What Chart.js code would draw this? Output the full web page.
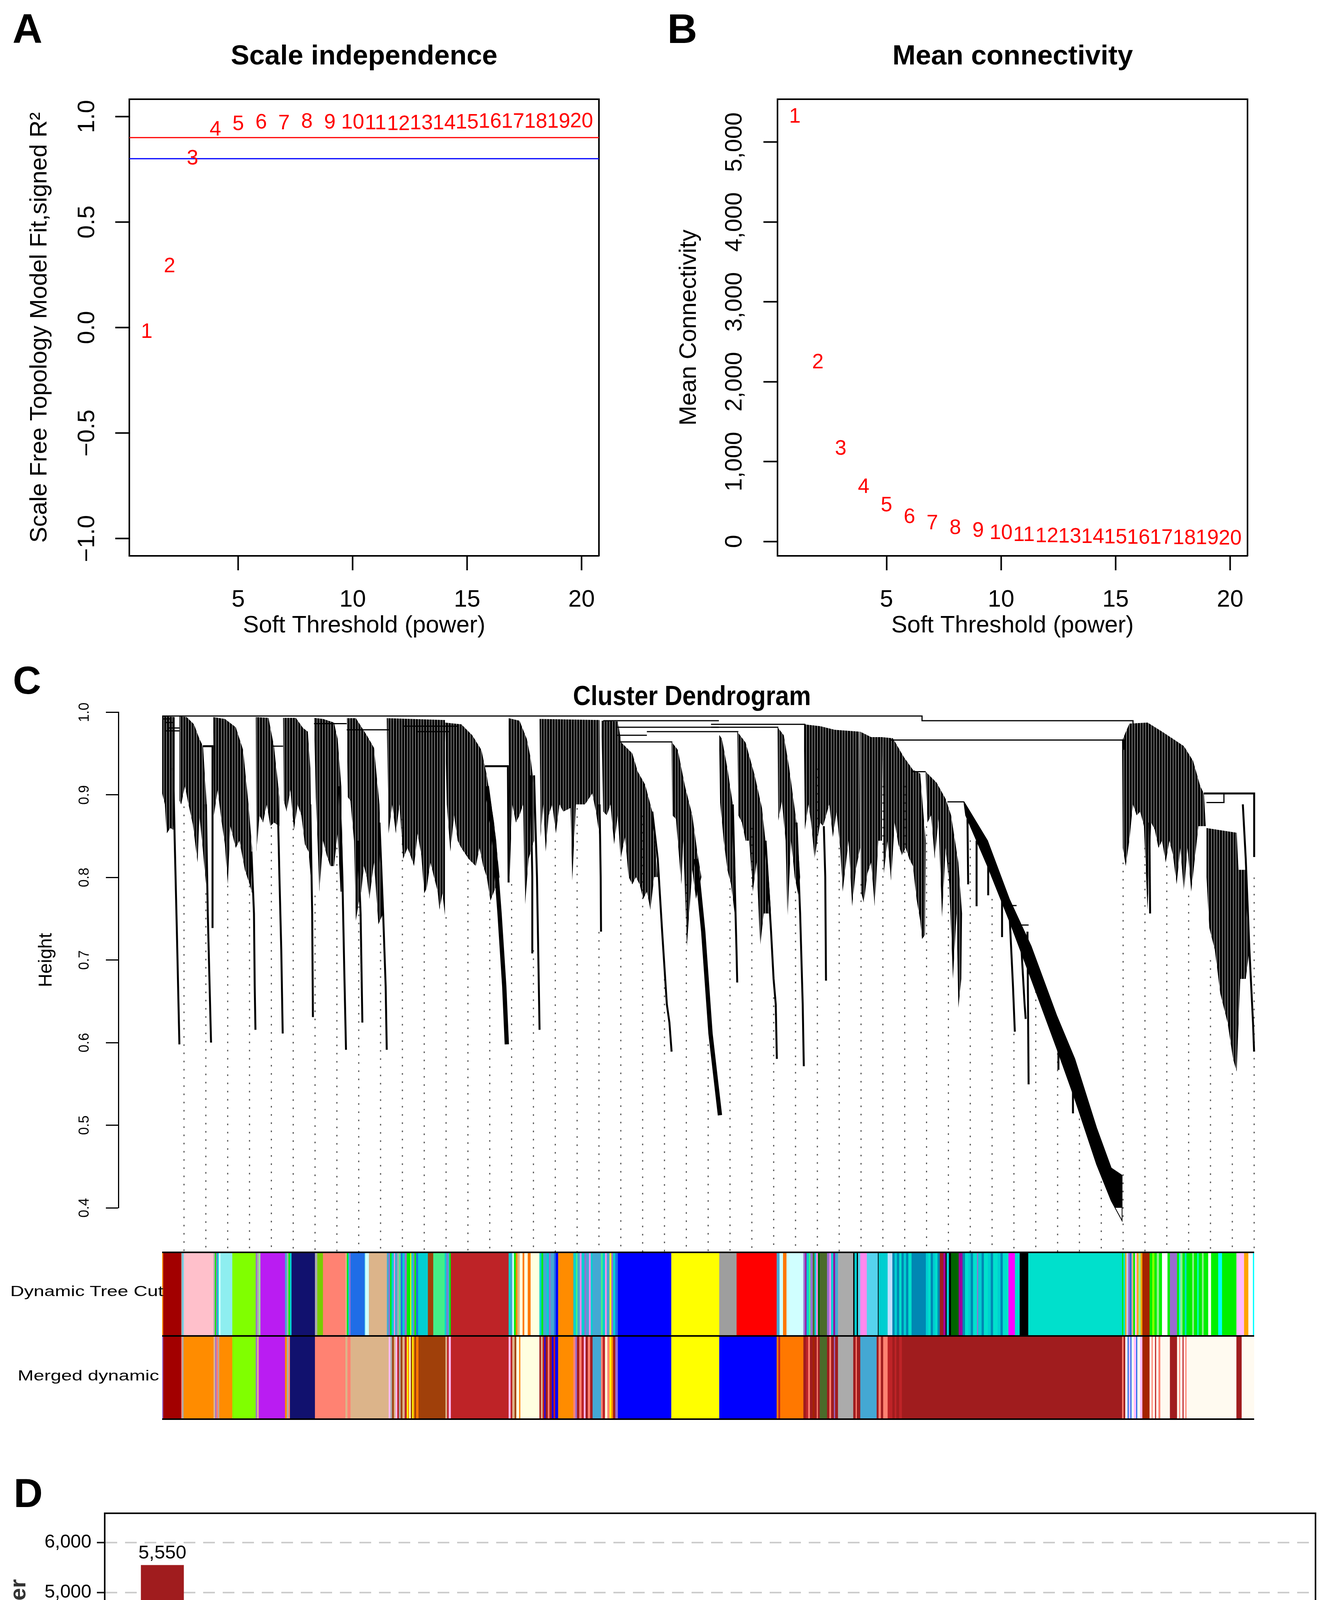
<!DOCTYPE html>
<html lang="en">
<head>
<meta charset="UTF-8"/>
<title>WGCNA soft threshold, module dendrogram and module sizes</title>
<script src="https://cdn.jsdelivr.net/npm/chart.js"></script>
<style>
 html,body{margin:0;padding:0;background:#fff}
 body{width:3399px;height:5011px;position:relative;overflow:hidden;font-family:"Liberation Sans",Arial,Helvetica,sans-serif;color:#000}
 .box{position:absolute}
 .txt{position:absolute;line-height:1;white-space:nowrap;z-index:2}
 .tag{font-weight:bold}
</style>
</head>
<body>
<div class="box" style="left:0;top:0;width:1700px;height:1650px"><canvas id="fit"></canvas></div>
<div class="box" style="left:1650px;top:0;width:1749px;height:1650px"><canvas id="conn"></canvas></div>
<div class="box" style="left:0;top:1700px;width:3399px;height:1550px"><canvas id="dendro"></canvas></div>
<div class="box" style="left:0;top:3190px;width:3399px;height:460px"><canvas id="colors"></canvas></div>
<div class="box" style="left:0;top:3780px;width:3399px;height:1231px"><canvas id="sizes"></canvas></div>

<div class="txt tag" style="left:32px;top:20px;font-size:106px">A</div>
<div class="txt tag" style="left:1708px;top:20px;font-size:106px">B</div>
<div class="txt tag" style="left:33px;top:1691px;font-size:100px">C</div>
<div class="txt tag" style="left:35px;top:3771px;font-size:103px">D</div>

<div class="txt tag" style="left:932px;top:105px;font-size:71px;transform:translateX(-50%)">Scale independence</div>
<div class="txt tag" style="left:2592px;top:105px;font-size:71px;transform:translateX(-50%)">Mean connectivity</div>
<div class="txt tag" style="left:1771px;top:1746px;font-size:70px;transform:translateX(-50%) scaleX(0.9)">Cluster Dendrogram</div>
<div class="txt" style="right:2981px;top:3288px;font-size:36px;transform:scaleX(1.36);transform-origin:right center">Dynamic Tree Cut</div>
<div class="txt" style="right:2992px;top:3504px;font-size:36px;transform:scaleX(1.36);transform-origin:right center">Merged dynamic</div>

<script>
// ---- panel A / B : soft threshold scan ----
const powers = [1,2,3,4,5,6,7,8,9,10,11,12,13,14,15,16,17,18,19,20];
const scaleFreeFit = [-0.022,0.289,0.800,0.936,0.963,0.971,0.967,0.973,0.971,0.971,0.967,0.963,0.967,0.967,0.971,0.973,0.973,0.973,0.973,0.975];
const meanConnectivity = [5318,2241,1159,680,450,303,225,166,130,103,78,64,59,54,49,44,40,38,35,30];
const powerTicks = [5,10,15,20];
const fitTicks = [-1,-0.5,0,0.5,1];
const connTicks = [0,1000,2000,3000,4000,5000];
const fitCutoffs = [0.9,0.8];

// ---- panel D : module sizes ----
const moduleNames = ['brown4','blue','floralwhite','brown','darkorange','yellow','saddlebrown','tan','skyblue3','salmon','darkorange2','lightyellow','purple','greenyellow','midnightblue','darkred','darkgrey','darkolivegreen','orangered4','grey'];
const moduleSizes = [5550,2252,2000,1150,1011,947,891,889,572,570,514,504,469,451,424,327,260,164,132,3];
const countTicks = [0,1000,2000,3000,4000,5000,6000];

// ---- panel C : dendrogram (x = leaf order, y = height) ----
const heightTicks = [0.4,0.5,0.6,0.7,0.8,0.9,1.0];
// outlines of the comb-like branch bundles
const dendroMasses = [
 [[0,.9955],[219,.9942],[219,.9061],[193,.8577],[142,.8599],[79,.8533],[47,.8885],[0,.9017]],
 [[301,.9951],[428,.9942],[556,.9854],[651,.9678],[714,.9590],[778,.8885],[765,.7916],[714,.8313],[651,.8753],[619,.8181],[536,.8643],[460,.8885],[397,.9105],[333,.8885],[301,.8929]],
 [[892,.9942],[1096,.9920],[1286,.9819],[1414,.9546],[1509,.8885],[1572,.8357],[1572,.7806],[1528,.7916],[1445,.8093],[1350,.8445],[1286,.8357],[1191,.8621],[1147,.7916],[1096,.8401],[1032,.8709],[969,.9061],[905,.8753]],
 [[1636,.9942],[1858,.9933],[1954,.9590],[2049,.8973],[2049,.8621],[1954,.8665],[1890,.8621],[1827,.8885],[1763,.8665],[1700,.8753],[1649,.8313]],
 [[2113,.9933],[2335,.9933],[2462,.9810],[2545,.9766],[2589,.9325],[2621,.7806],[2558,.8313],[2494,.8401],[2431,.8753],[2367,.8885],[2303,.8577],[2240,.9061],[2176,.8797],[2125,.8929]],
 [[2653,.9933],[2812,.9920],[3003,.9876],[3066,.9678],[3130,.9105],[3162,.7828],[3117,.7828],[3066,.8533],[3003,.8137],[2939,.8137],[2875,.8269],[2812,.8445],[2748,.7828],[2685,.8973]],
 [[3225,.9929],[3384,.9929],[3575,.9722],[3702,.9568],[3797,.8885],[3861,.7564],[3778,.7432],[3702,.8181],[3619,.7740],[3575,.8005],[3524,.8137],[3479,.7828],[3435,.7696],[3384,.7476],[3352,.8445],[3289,.8929],[3244,.8973]],
 [[3924,.9929],[4941,.9907],[4941,.7542],[4897,.7806],[4846,.7608],[4814,.7828],[4750,.8005],[4687,.8181],[4623,.7872],[4579,.7806],[4528,.8269],[4464,.8533],[4401,.8137],[4337,.8269],[4287,.8357],[4210,.8225],[4147,.8885],[4083,.8533],[4020,.8885],[3956,.8533]],
 [[4941,.9876],[5227,.9854],[5418,.9722],[5577,.9546],[5672,.9237],[5799,.8665],[5895,.8005],[5736,.7718],[5672,.8005],[5609,.8137],[5545,.8357],[5481,.8137],[5354,.8225],[5227,.8357],[5164,.8445],[5100,.8753],[5036,.8313],[4973,.8885]],
 [[6053,.9929],[6244,.9898],[6371,.9678],[6435,.9458],[6498,.9105],[6498,.8445],[6403,.8225],[6339,.7652],[6308,.8885],[6244,.8753],[6181,.8665],[6117,.8885],[6072,.8005]],
 [[6594,.9920],[7643,.9907],[7655,.8445],[7579,.8797],[7515,.9017],[7388,.8885],[7229,.8885],[7166,.7961],[7134,.8841],[7007,.8797],[6943,.8885],[6880,.8533],[6816,.8885],[6753,.8753],[6702,.8313],[6657,.8885],[6613,.8489]],
 [[7674,.9898],[7960,.9889],[8024,.9634],[8215,.9502],[8310,.9281],[8437,.9127],[8564,.8797],[8659,.8005],[8596,.8005],[8532,.7608],[8469,.7828],[8405,.7740],[8342,.7916],[8278,.8005],[8215,.7916],[8151,.8005],[8087,.8489],[8011,.8225],[7960,.8753],[7897,.8401],[7833,.8885],[7770,.8753],[7706,.8797]],
 [[8901,.9642],[9009,.9546],[9136,.9105],[9263,.8753],[9359,.8269],[9422,.8005],[9327,.7740],[9263,.8093],[9168,.7168],[9104,.8445],[9072,.7916],[8977,.8709],[8914,.8753]],
 [[9730,.9730],[9781,.9678],[9876,.9325],[9971,.8885],[10022,.8005],[10003,.7564],[9940,.7916],[9876,.8093],[9812,.8445],[9749,.8907]],
 [[10048,.9766],[10194,.9634],[10353,.9237],[10480,.8841],[10575,.8225],[10639,.7564],[10512,.7564],[10448,.7168],[10385,.8181],[10321,.7828],[10257,.8445],[10194,.8445],[10130,.8665],[10067,.8753]],
 [[10753,.9819],[10861,.9722],[10957,.9325],[11084,.8665],[11147,.8005],[11115,.7784],[11052,.8005],[10988,.8445],[10925,.7476],[10893,.8445],[10829,.8929],[10766,.8687]],
 [[11211,.9854],[11497,.9832],[11751,.9788],[12005,.9775],[12183,.9766],[12196,.8357],[12120,.8093],[12056,.7652],[11993,.8445],[11891,.7828],[11846,.8357],[11783,.8797],[11719,.8489],[11656,.8885],[11548,.8621],[11497,.8665],[11446,.8445],[11401,.8225],[11338,.8665],[11293,.8885],[11230,.8577]],
 [[12196,.9766],[12387,.9700],[12577,.9700],[12577,.8445],[12514,.8445],[12450,.7652],[12387,.8181],[12323,.8049],[12260,.7696],[12209,.7828]],
 [[12577,.9700],[12768,.9686],[12959,.9458],[13118,.9303],[13245,.9259],[13340,.8445],[13327,.7300],[13277,.7256],[13245,.7476],[13181,.7740],[13118,.8137],[13054,.8225],[12991,.8357],[12927,.8269],[12863,.8401],[12800,.8665],[12736,.7961],[12673,.8445],[12609,.8049]],
 [[13340,.9281],[13531,.9149],[13690,.8951],[13785,.8753],[13912,.8181],[13976,.7564],[13963,.6772],[13912,.6420],[13880,.7564],[13817,.6772],[13753,.7916],[13690,.8357],[13626,.7520],[13563,.8709],[13499,.8225],[13435,.8753],[13372,.8665]],
 [[16772,.9656],[16899,.9863],[17217,.9876],[17471,.9766],[17662,.9678],[17853,.9590],[18012,.9414],[18139,.9105],[18202,.9017],[18234,.8621],[18107,.8621],[18043,.8225],[17980,.7828],[17916,.8357],[17853,.7828],[17789,.8357],[17726,.7916],[17662,.8269],[17599,.8445],[17535,.8181],[17471,.8445],[17408,.8357],[17344,.8577],[17281,.8665],[17217,.7608],[17154,.8621],[17090,.8797],[17027,.8753],[16963,.8885],[16899,.8445],[16836,.8137],[16785,.8357]],
 [[18247,.8599],[18774,.8542],[18806,.8093],[18933,.8093],[18997,.7124],[18933,.6772],[18838,.6772],[18774,.5649],[18711,.5803],[18615,.6243],[18488,.6596],[18393,.7124],[18297,.7388],[18247,.8005]]
];
// the long, tightly packed diagonal bundle (turquoise module)
const denseBands = [
 [[14007,.8920],[14421,.8445],[14802,.7740],[15183,.7168],[15628,.6331],[15946,.5803],[16327,.4967],[16582,.4482],[16772,.4394],[16772,.3844],[16582,.4086],[16327,.4526],[15946,.5319],[15628,.5935],[15183,.6772],[14802,.7476],[14421,.8137],[14039,.8753]]
];
const thickTails = [
 [[5672,.9105],[5799,.8445],[5895,.7564],[5977,.6684],[6022,.5979]],
 [[9327,.8225],[9454,.7344],[9581,.6111],[9676,.5539],[9746,.5121]]
];
const dendroTails = [
 [[193,.9325],[219,.8445],[257,.7344],[301,.5979]],
 [[765,.8885],[797,.7564],[829,.6684],[854,.6001]],
 [[714,.9590],[880,.9590],[880,.7388]],
 [[1560,.8313],[1604,.7564],[1617,.6684],[1630,.6155]],
 [[2017,.8973],[2049,.8005],[2081,.7124],[2106,.6111]],
 [[2589,.8885],[2621,.7564],[2634,.6309]],
 [[3098,.9105],[3149,.8005],[3181,.6904],[3212,.5913]],
 [[3416,.8445],[3467,.7564],[3498,.6243]],
 [[3797,.8665],[3861,.7564],[3905,.6684],[3924,.5913]],
 [[5641,.9347],[6041,.9347],[6053,.7939]],
 [[6435,.9237],[6467,.8005],[6467,.7080]],
 [[6498,.9237],[6549,.8005],[6594,.6155]],
 [[7643,.8885],[7662,.8005],[7668,.7344]],
 [[8564,.8797],[8659,.8225],[8736,.7344],[8818,.6464],[8863,.6243],[8901,.5891]],
 [[9971,.8885],[10010,.7784],[10035,.7124],[10048,.6728]],
 [[10543,.8445],[10639,.7344],[10683,.6772],[10721,.6464],[10740,.5803]],
 [[11084,.8665],[11147,.7564],[11192,.6464],[11211,.5715]],
 [[11561,.8621],[11586,.8005],[11599,.6750]],
 [[14071,.8709],[14083,.7916]],
 [[14230,.8445],[14230,.7652]],
 [[14433,.8137],[14433,.7784]],
 [[14675,.7872],[14675,.7278]],
 [[14802,.7608],[14866,.6684],[14898,.6133]],
 [[14993,.7388],[15069,.6464],[15088,.6287]],
 [[15119,.7344],[15139,.5495]],
 [[15660,.6111],[15660,.5671]],
 [[15914,.5583],[15914,.5143]],
 [[17249,.8665],[17262,.7564]],
 [[18882,.8885],[18933,.8225],[18997,.7124],[19060,.6243],[19079,.5891]],
 [[18202,.9017],[19080,.9017],[19080,.8247]]
];
const dendroMerges = [
 [[0,.9955],[13277,.9955],[13277,.9898],[16963,.9898],[16963,.9863]],
 [[9590,.9854],[11240,.9854]],
 [[9590,.9819],[10766,.9819]],
 [[7706,.9898],[9727,.9898]],
 [[7960,.9819],[9727,.9819]],
 [[8469,.9766],[10067,.9766]],
 [[7960,.9722],[8469,.9722]],
 [[7992,.9642],[8914,.9642]],
 [[12705,.9664],[16804,.9664],[16804,.9546]],
 [[4210,.9832],[5164,.9832]],
 [[4464,.9766],[5036,.9766]],
 [[3225,.9788],[3956,.9788]],
 [[2653,.9863],[3225,.9863]],
 [[15,.9920],[142,.9920]],
 [[47,.9876],[206,.9876]],
 [[111,.9810],[301,.9810]],
 [[47,.9775],[301,.9775]],
 [[1922,.9590],[2113,.9590]],
 [[13118,.9281],[13340,.9281]],
 [[13721,.8916],[14007,.8916]],
 [[14802,.7660],[14929,.7660]],
 [[14961,.7424],[15139,.7424]],
 [[18247,.8907],[18552,.8907],[18552,.9017]]
];
// guide lines hang below the tree at 50 evenly spaced leaves
const guideHeights = [0.886,0.781,0.790,0.790,0.861,0.889,0.778,0.836,0.765,0.730,
 0.871,0.778,0.752,0.827,0.770,0.792,0.712,0.845,0.884,0.734,
 0.822,0.875,0.677,0.792,0.598,0.787,0.860,0.655,0.783,0.932,
 0.836,0.792,0.911,0.911,0.862,0.818,0.845,0.774,0.611,0.682,
 0.607,0.528,0.462,0.818,0.836,0.814,0.778,0.700,0.563,0.800];
const guideFloor = 0.3465;

// module colour rows under the tree: [module, first leaf, last leaf]
const rowNames = ['Dynamic Tree Cut','Merged dynamic'];
const treeCutSegs = [
['darkorange',0,21],['darkred',21,336],['darkgrey',336,356],['skyblue',356,377],['pink',377,900],
['darkgrey',900,925],['green',925,945],['mediumpurple3',945,965],['darkturquoise',965,990],['lightcyan',990,1023],
['paleturquoise',1023,1228],['greenyellow',1228,1637],
['mediumpurple3',1637,1660],['darkgrey',1660,1690],['lightgreen',1690,1719],['purple',1719,2149],
['skyblue3',2149,2180],['darkgrey',2180,2210],['green',2210,2235],['darkturquoise',2235,2263],
['midnightblue',2263,2672],['darkgrey',2672,2713],['yellowgreen',2713,2812],['salmon',2812,3204],
['tan',3204,3230],['green',3230,3250],['darkturquoise',3250,3270],['mediumpurple3',3270,3294],
['royalblue',3294,3540],['skyblue',3540,3552],['lightcyan',3552,3614],['tan',3614,3929],
['skyblue3',3929,3960],['mediumpurple3',3960,3985],['green',3985,4010],['darkturquoise',4010,4050],['violet',4050,4070],['skyblue3',4070,4110],['darkgrey',4110,4140],['seagreen2',4140,4170],['royalblue',4170,4200],['darkturquoise',4200,4240],['mediumpurple3',4240,4276],
['green',4276,4338],
['yellow',4338,4355],['darkturquoise',4355,4390],['mediumpurple3',4390,4410],['green',4410,4440],['royalblue',4440,4473],
['darkturquoise',4473,4645],['saddlebrown',4645,4739],['seagreen2',4739,4939],
['darkturquoise',4939,4970],['mediumpurple3',4970,4990],['skyblue3',4990,5020],['green',5020,5046],
['brown',5046,6056],
['darkturquoise',6056,6090],['skyblue3',6090,6120],['lightcyan',6120,6150],['green',6150,6180],['darkorange',6180,6210],['tan',6210,6250],['lightyellow',6250,6300],['darkorange2',6300,6330],['lightyellow',6330,6390],['darkorange2',6390,6440],['lightyellow',6440,6594],
['darkturquoise',6594,6630],['green',6630,6660],['skyblue3',6660,6720],['darkturquoise',6720,6760],['mediumpurple3',6760,6790],['skyblue3',6790,6850],['royalblue',6850,6880],['blue',6880,6921],
['darkorange',6921,7187],
['darkturquoise',7187,7230],['seagreen2',7230,7260],['skyblue3',7260,7300],['violet',7300,7330],['darkturquoise',7330,7380],['mediumpurple3',7380,7410],['skyblue3',7410,7460],['violet',7460,7490],['darkturquoise',7490,7523],
['skyblue3',7523,7670],
['seagreen2',7670,7700],['darkturquoise',7700,7740],['violet',7740,7770],['skyblue3',7770,7820],['yellow',7820,7850],['mediumpurple3',7850,7880],['darkturquoise',7880,7920],['royalblue',7920,7965],
['blue',7965,8898],['yellow',8898,9736],['grey60',9736,10039],['red',10039,10739],
['skyblue3',10739,10790],['lightcyan',10790,10850],['darkorange2',10850,10911],['lightcyan',10911,11206],
['mediumpurple3',11206,11240],['darkmagenta',11240,11260],['darkturquoise',11260,11300],['seagreen2',11300,11330],['mediumpurple3',11330,11370],['darkolivegreen',11370,11400],['darkturquoise',11400,11430],['violet',11430,11460],['darkgreen',11460,11492],
['darkolivegreen',11492,11619],
['mediumpurple3',11619,11660],['violet',11660,11690],['darkturquoise',11690,11730],['darkmagenta',11730,11760],['skyblue3',11760,11811],
['darkgrey',11811,12077],
['black',12077,12100],['darkturquoise',12100,12140],['black',12140,12160],['skyblue',12160,12200],
['violet',12200,12314],['skyblue',12314,12507],
['black',12507,12520],['darkturquoise',12520,12678],['lightblue',12678,12761],
['steelblue',12761,12800],['darkturquoise',12800,12840],['steelblue',12840,12880],['turquoise',12880,12920],['steelblue',12920,12960],['darkturquoise',12960,13000],['steelblue',13000,13040],['turquoise',13040,13096],
['steelblue',13096,13346],
['darkturquoise',13346,13390],['turquoise',13390,13430],['steelblue',13430,13470],['darkturquoise',13470,13510],['turquoise',13510,13550],['steelblue',13550,13589],
['brown4',13589,13652],
['darkmagenta',13652,13690],['black',13690,13710],['darkturquoise',13710,13750],['black',13750,13785],
['darkgreen',13785,13919],['darkmagenta',13919,13986],
['steelblue',13986,14030],['turquoise',14030,14090],['darkturquoise',14090,14130],['steelblue',14130,14170],['turquoise',14170,14240],['mediumpurple3',14240,14260],['darkturquoise',14260,14320],['steelblue',14320,14360],['turquoise',14360,14430],['darkturquoise',14430,14480],['steelblue',14480,14520],['turquoise',14520,14600],['darkturquoise',14600,14650],['steelblue',14650,14690],['turquoise',14690,14789],
['magenta',14789,14902],['turquoise',14902,14985],['black',14985,15135],['turquoise',15135,16774],
['green',16774,16795],['turquoise',16795,16830],['orange',16830,16850],['lavender',16850,16880],['mediumpurple3',16880,16910],['royalblue',16910,16940],['tan',16940,16970],['green',16970,17000],['plum',17000,17030],['orange',17030,17060],['lightgreen',17060,17100],['orange',17100,17129],
['orangered4',17129,17255],
['green',17255,17300],['greenyellow',17300,17340],['green',17340,17380],['lightgreen',17380,17420],['green',17420,17472],
['white',17472,17568],['green',17568,17610],['mediumpurple3',17610,17735],
['green',17735,17770],['cyan',17770,17790],['lightgreen',17790,17830],['green',17830,17870],['turquoise',17870,17900],['green',17900,18000],['lightgreen',18000,18030],['green',18030,18090],['cyan',18090,18110],['green',18110,18170],['lightgreen',18170,18200],['green',18200,18279],
['white',18279,18329],['green',18329,18454],['cyan',18454,18521],['green',18521,18772],['plum',18772,18906],['orange',18906,18981],['white',18981,19060],['cyan',19060,19080]
];
const mergedSegs = [
['mediumpurple3',0,21],['darkred',21,336],['salmon',336,350],['darkgrey',350,377],['darkorange',377,900],
['tan',900,930],['mediumpurple3',930,950],['salmon',950,980],['darkgrey',980,1000],['darkorange',1000,1228],
['greenyellow',1228,1637],
['mediumpurple3',1637,1660],['tan',1660,1690],['purple',1690,2149],
['darkorange',2149,2180],['darkgrey',2180,2210],['salmon',2210,2235],['midnightblue',2235,2672],
['salmon',2672,3204],['tan',3204,3240],['salmon',3240,3294],['tan',3294,3929],
['tan',3929,3960],['plum',3960,3990],['darkgrey',3990,4020],['saddlebrown',4020,4050],['tan',4050,4080],['plum',4080,4110],['brown',4110,4140],['darkgrey',4140,4170],['saddlebrown',4170,4200],['tan',4200,4240],['brown',4240,4276],
['yellow',4276,4300],['darkorange',4300,4320],['lightyellow',4320,4345],['saddlebrown',4345,4370],['yellow',4370,4390],['darkorange',4390,4410],['saddlebrown',4410,4440],['darkorange2',4440,4481],
['saddlebrown',4481,4952],['tan',4952,4980],['brown',4980,5010],['plum',5010,5046],
['brown',5046,6056],
['plum',6056,6090],['brown',6090,6120],['tan',6120,6160],['saddlebrown',6160,6190],['lightyellow',6190,6240],['darkorange2',6240,6260],['lightyellow',6260,6594],
['brown4',6594,6620],['tan',6620,6650],['brown',6650,6680],['blue',6680,6700],['brown4',6700,6740],['salmon',6740,6770],['brown4',6770,6810],['blue',6810,6840],['brown',6840,6870],['blue',6870,6921],
['darkorange',6921,7187],
['salmon',7187,7220],['mediumpurple3',7220,7250],['brown4',7250,7290],['salmon',7290,7330],['brown',7330,7370],['plum',7370,7400],['brown4',7400,7440],['salmon',7440,7480],['brown4',7480,7523],
['skyblue3',7523,7670],
['salmon',7670,7700],['brown',7700,7740],['lightyellow',7740,7780],['salmon',7780,7820],['yellow',7820,7850],['darkorange',7850,7880],['brown4',7880,7920],['mediumpurple3',7920,7965],
['blue',7965,8898],['yellow',8898,9736],['blue',9736,10739],
['darkorange2',10739,10770],['brown',10770,10800],['darkorange2',10800,11206],
['brown4',11206,11250],['brown',11250,11290],['salmon',11290,11320],['brown4',11320,11370],['orangered4',11370,11400],['brown4',11400,11440],['salmon',11440,11460],['brown4',11460,11492],
['darkolivegreen',11492,11619],
['brown4',11619,11660],['salmon',11660,11690],['brown4',11690,11740],['mediumpurple3',11740,11760],['brown4',11760,11811],
['darkgrey',11811,12077],
['brown4',12077,12120],['salmon',12120,12140],['brown4',12140,12200],
['skyblue3',12200,12486],
['brown4',12486,12520],['salmon',12520,12560],['brown4',12560,12600],['salmon',12600,12678],
['brown',12678,12761],
['brown4',12761,12800],['brown',12800,12830],['brown4',12830,12880],['brown',12880,12928],
['brown4',12928,16774],
['salmon',16774,16800],['brown4',16800,16830],['floralwhite',16830,16870],['royalblue',16870,16890],['plum',16890,16920],['royalblue',16920,16940],['floralwhite',16940,16980],['plum',16980,17020],['royalblue',17020,17040],['floralwhite',17040,17090],['plum',17090,17129],
['orangered4',17129,17255],
['floralwhite',17255,17290],['salmon',17290,17310],['floralwhite',17310,17350],['brown',17350,17370],['floralwhite',17370,17410],['salmon',17410,17443],
['floralwhite',17443,17610],['brown4',17610,17735],
['floralwhite',17735,17770],['salmon',17770,17790],['floralwhite',17790,17830],['brown',17830,17850],['floralwhite',17850,17880],['salmon',17880,17900],['floralwhite',17900,18772],
['brown4',18772,18864],['floralwhite',18864,19080]
];

// colours as they appear in the figure
const moduleHex = {
 brown4:'#A01C1E', blue:'#0000FF', floralwhite:'#FFFAF0', brown:'#BE2327', darkorange:'#FF8C00', yellow:'#FFFF00',
 saddlebrown:'#A0400A', tan:'#DCB48A', skyblue3:'#44A8D3', salmon:'#FF8272', darkorange2:'#FF7800', lightyellow:'#FFFFE0',
 purple:'#BA1CF2', greenyellow:'#80FF00', midnightblue:'#11116E', darkred:'#A20000', darkgrey:'#ABABAB',
 darkolivegreen:'#4B6B2A', orangered4:'#A52300', grey:'#BEBEBE',
 pink:'#FFC0CB', paleturquoise:'#8EEEF0', yellowgreen:'#78CC00', royalblue:'#1F6DE6', lightcyan:'#D0FFFF',
 green:'#00F000', darkturquoise:'#00CED1', seagreen2:'#44EE88', grey60:'#9E9E9E', red:'#FF0000',
 violet:'#FF88EE', skyblue:'#55D3EE', lightblue:'#BFE0FF', steelblue:'#0087B3', turquoise:'#00E0CC',
 darkmagenta:'#A0009E', darkgreen:'#006400', magenta:'#FF00FF', black:'#000000', orange:'#FFA500',
 lavender:'#C8C8FF', mediumpurple3:'#9A6CD0', plum:'#FFBBFF', white:'#FFFFFF', cyan:'#00FFFF', lightgreen:'#90EE90'
};

const FONT = '"Liberation Sans", Arial, Helvetica, sans-serif';
Chart.defaults.font.family = FONT;
Chart.defaults.color = '#000';

const totalLeaves = moduleSizes.reduce((a, b) => a + b, 0);

function textWidth(str, px) {
  const c = document.createElement('canvas').getContext('2d');
  c.font = 'normal ' + px + 'px ' + FONT;
  return c.measureText(str).width;
}
const widest = (labels, px) => Math.max(...labels.map(l => textWidth(l, px)));
const pts = arr => arr.map(([x, y]) => ({x, y}));
const fixedTicks = vals => s => { s.ticks = vals.map(v => ({value: v})); };
const noUi = {legend: {display: false}, tooltip: {enabled: false}};

// numbers drawn in place of points (R: text(powers, ...))
const powerLabels = {
  id: 'powerLabels',
  afterDatasetsDraw(chart) {
    const ctx = chart.ctx;
    ctx.save();
    ctx.font = 'normal 53px ' + FONT;
    ctx.fillStyle = '#FF0000';
    ctx.textAlign = 'center';
    ctx.textBaseline = 'middle';
    chart.getDatasetMeta(0).data.forEach((p, i) => ctx.fillText(String(powers[i]), p.x, p.y));
    ctx.restore();
  }
};

function rAxes(o) {
  const yPad = o.labelDist - 36 - widest(o.yLabels, 61) / 2;
  return {
    x: {
      type: 'linear', position: 'bottom', min: 0.24, max: 20.76,
      afterBuildTicks: fixedTicks(powerTicks),
      afterFit: s => { s.height = 227; },
      ticks: {font: {size: 61}, color: '#000', padding: 40, maxRotation: 0, autoSkip: false},
      grid: {drawOnChartArea: false, tickLength: 37, tickWidth: 4, tickColor: '#000'},
      border: {color: '#000', width: 4},
      title: {display: true, text: 'Soft Threshold (power)', font: {size: 61}, color: '#000', padding: {top: 0, bottom: 11}}
    },
    y: {
      type: 'linear', position: 'left', min: o.yMin, max: o.yMax,
      afterBuildTicks: fixedTicks(o.yTicks),
      afterFit: s => { s.width = o.yWidth; },
      ticks: {font: {size: 61}, color: '#000', minRotation: 90, maxRotation: 90, crossAlign: 'center',
              padding: yPad, autoSkip: false, callback: (v, i) => o.yLabels[i]},
      grid: {drawOnChartArea: false, tickLength: 36, tickWidth: 4, tickColor: '#000'},
      border: {color: '#000', width: 4},
      title: {display: true, text: o.yTitle, font: {size: 61}, color: '#000', padding: {top: o.titlePad, bottom: 0}}
    },
    x2: {type: 'linear', position: 'top', ticks: {display: false}, grid: {display: false},
         border: {color: '#000', width: 4}, afterFit: s => { s.height = 0; }},
    y2: {type: 'linear', position: 'right', ticks: {display: false}, grid: {display: false},
         border: {color: '#000', width: 4}, afterFit: s => { s.width = 0; }}
  };
}

// A
const fitLabels = fitTicks.map(v => (v < 0 ? '\u2212' : '') + Math.abs(v).toFixed(1));
new Chart(document.getElementById('fit'), {
  type: 'scatter',
  data: {datasets: [
    {data: powers.map((p, i) => ({x: p, y: scaleFreeFit[i]})), pointRadius: 0},
    {data: [{x: 0.24, y: fitCutoffs[0]}, {x: 20.76, y: fitCutoffs[0]}], showLine: true, borderColor: '#FF0000', borderWidth: 3, pointRadius: 0},
    {data: [{x: 0.24, y: fitCutoffs[1]}, {x: 20.76, y: fitCutoffs[1]}], showLine: true, borderColor: '#0000FF', borderWidth: 3, pointRadius: 0}
  ]},
  options: {
    responsive: true, maintainAspectRatio: false, devicePixelRatio: 1, animation: false, events: [],
    layout: {padding: {top: 254, right: 167, bottom: 0, left: 0}},
    plugins: noUi,
    scales: rAxes({yMin: -1.082, yMax: 1.082, yTicks: fitTicks, yLabels: fitLabels, yWidth: 331, labelDist: 107,
                   yTitle: 'Scale Free Topology Model Fit,signed R\u00B2', titlePad: 66})
  },
  plugins: [powerLabels]
});

// B
const connLabels = connTicks.map(v => v.toLocaleString('en-US'));
new Chart(document.getElementById('conn'), {
  type: 'scatter',
  data: {datasets: [{data: powers.map((p, i) => ({x: p, y: meanConnectivity[i]})), pointRadius: 0}]},
  options: {
    responsive: true, maintainAspectRatio: false, devicePixelRatio: 1, animation: false, events: [],
    layout: {padding: {top: 254, right: 206, bottom: 0, left: 0}},
    plugins: noUi,
    scales: rAxes({yMin: -181, yMax: 5538, yTicks: connTicks, yLabels: connLabels, yWidth: 340, labelDist: 109,
                   yTitle: 'Mean Connectivity', titlePad: 78})
  },
  plugins: [powerLabels]
});

// C: dendrogram; bundles are filled with fine vertical strands like the leaf lines of the tree
const dendroCanvas = document.getElementById('dendro');
const strandTile = document.createElement('canvas');
strandTile.width = 7; strandTile.height = 4;
strandTile.getContext('2d').fillRect(0, 0, 6, 4);
const strands = dendroCanvas.getContext('2d').createPattern(strandTile, 'repeat');

const dendroSets = [];
const lineSet = (data, width, extra) => Object.assign({data, borderColor: '#000', borderWidth: width, pointRadius: 0,
                                                       fill: false, clip: false, borderJoinStyle: 'miter'}, extra || {});
denseBands.forEach(m => dendroSets.push(lineSet(pts(m.concat([m[0]])), 2, {fill: 'shape', backgroundColor: '#000'})));
dendroMasses.forEach(m => dendroSets.push(lineSet(pts(m.concat([m[0]])), 0, {fill: 'shape', backgroundColor: strands, borderColor: 'rgba(0,0,0,0)'})));
thickTails.forEach(t => dendroSets.push(lineSet(pts(t), 11)));
dendroTails.forEach(t => dendroSets.push(lineSet(pts(t), 5)));
dendroMerges.forEach(t => dendroSets.push(lineSet(pts(t), 3)));
const guidePts = [];
guideHeights.forEach((h, k) => {
  const x = (k + 1) * totalLeaves / guideHeights.length;
  guidePts.push({x, y: h}, {x, y: guideFloor}, {x, y: null});
});
dendroSets.push(lineSet(guidePts, 3, {borderColor: '#555', borderDash: [4, 17], spanGaps: false}));

const heightLabels = heightTicks.map(v => v.toFixed(1));
new Chart(dendroCanvas, {
  type: 'line',
  data: {datasets: dendroSets},
  options: {
    responsive: true, maintainAspectRatio: false, devicePixelRatio: 1, animation: false, events: [],
    layout: {padding: {top: 123.5, right: 189, bottom: 158, left: 0}},
    plugins: noUi,
    elements: {line: {tension: 0}},
    scales: {
      x: {type: 'linear', display: false, min: -765, max: totalLeaves},
      y: {
        type: 'linear', min: 0.4, max: 1.0,
        afterBuildTicks: fixedTicks(heightTicks),
        afterFit: s => { s.width = 303; },
        ticks: {font: {size: 36}, color: '#000', minRotation: 90, maxRotation: 90, crossAlign: 'center',
                padding: 86 - 32 - widest(heightLabels, 36) / 2, autoSkip: false, callback: (v, i) => heightLabels[i]},
        grid: {drawOnChartArea: false, tickLength: 32, tickWidth: 3, tickColor: '#000'},
        border: {color: '#000', width: 3},
        title: {display: true, text: 'Height', font: {size: 48}, color: '#000', padding: {top: 90, bottom: 0}}
      }
    }
  }
});

// C: colour rows
const segSet = (segs, row) => ({
  data: segs.map(s => ({x: [s[1], s[2]], y: rowNames[row]})),
  backgroundColor: segs.map(s => moduleHex[s[0]]),
  borderWidth: 0, grouped: false, barPercentage: 1, categoryPercentage: 1
});
new Chart(document.getElementById('colors'), {
  type: 'bar',
  data: {labels: rowNames, datasets: [segSet(treeCutSegs, 0), segSet(mergedSegs, 1)]},
  options: {
    indexAxis: 'y',
    responsive: true, maintainAspectRatio: false, devicePixelRatio: 1, animation: false, events: [],
    layout: {padding: {top: 16, right: 189, bottom: 17, left: 415}},
    plugins: noUi,
    scales: {
      x: {type: 'linear', display: false, min: 0, max: totalLeaves},
      y: {
        type: 'category',
        afterFit: s => { s.width = 0; },
        ticks: {display: false},
        grid: {offset: true, drawOnChartArea: true, drawTicks: false, color: '#000', lineWidth: 4, z: 1},
        border: {display: false}
      }
    }
  }
});

// D: module sizes
const slantLabels = {
  id: 'slantLabels',
  afterDraw(chart) {
    const xs = chart.scales.x, ctx = chart.ctx;
    ctx.save();
    ctx.font = 'normal 48px ' + FONT;
    ctx.fillStyle = '#000';
    ctx.textAlign = 'left';
    ctx.textBaseline = 'top';
    moduleNames.forEach((name, i) => {
      ctx.save();
      ctx.translate(xs.getPixelForValue(i + 1) - 10, xs.top + 28);
      ctx.rotate(Math.PI / 6);
      ctx.fillText(name, 0, 0);
      ctx.restore();
    });
    ctx.restore();
  }
};
const barValues = {
  id: 'barValues',
  afterDatasetsDraw(chart) {
    const ctx = chart.ctx;
    ctx.save();
    ctx.font = 'normal 49px ' + FONT;
    ctx.fillStyle = '#000';
    ctx.textAlign = 'center';
    ctx.textBaseline = 'alphabetic';
    chart.getDatasetMeta(0).data.forEach((b, i) => ctx.fillText(moduleSizes[i].toLocaleString('en-US'), b.x, b.y - 17));
    ctx.restore();
  }
};
new Chart(document.getElementById('sizes'), {
  type: 'bar',
  data: {datasets: [{
    data: moduleSizes.map((v, i) => ({x: i + 1, y: v})),
    backgroundColor: moduleNames.map(n => moduleHex[n]),
    borderWidth: 0, categoryPercentage: 1, barPercentage: 0.745
  }]},
  options: {
    responsive: true, maintainAspectRatio: false, devicePixelRatio: 1, animation: false, events: [],
    layout: {padding: {top: 94, right: 32, bottom: 0, left: 0}},
    plugins: noUi,
    scales: {
      x: {
        type: 'linear', min: 0, max: moduleNames.length + 1, offset: false,
        afterBuildTicks: fixedTicks(moduleNames.map((n, i) => i + 1)),
        afterFit: s => { s.height = 284; },
        ticks: {display: false},
        grid: {offset: false, drawOnChartArea: false, tickLength: 20, tickWidth: 4, tickColor: '#222'},
        border: {color: '#000', width: 4},
        title: {display: true, text: 'module names', font: {size: 58, weight: 'bold'}, color: '#333', padding: {top: 0, bottom: 0}}
      },
      y: {
        type: 'linear', min: -86, max: 6587,
        afterBuildTicks: fixedTicks(countTicks),
        afterFit: s => { s.width = 268; },
        ticks: {font: {size: 48}, color: '#000', padding: 14, autoSkip: false, callback: v => v.toLocaleString('en-US')},
        grid: {color: c => (c.tick && c.tick.value === 0) ? 'rgba(0,0,0,0)' : '#CCCCCC', lineWidth: 4,
               tickLength: 20, tickWidth: 4, tickColor: '#222'},
        border: {color: '#000', width: 4, dash: [30, 20]},
        title: {display: true, text: 'Metabolite number', font: {size: 58, weight: 'bold'}, color: '#333', padding: {top: 14, bottom: 0}}
      },
      x2: {type: 'linear', position: 'top', ticks: {display: false}, grid: {display: false},
           border: {color: '#000', width: 4}, afterFit: s => { s.height = 0; }},
      y2: {type: 'linear', position: 'right', ticks: {display: false}, grid: {display: false},
           border: {color: '#000', width: 4}, afterFit: s => { s.width = 0; }}
    }
  },
  plugins: [slantLabels, barValues]
});
</script>
</body>
</html>
